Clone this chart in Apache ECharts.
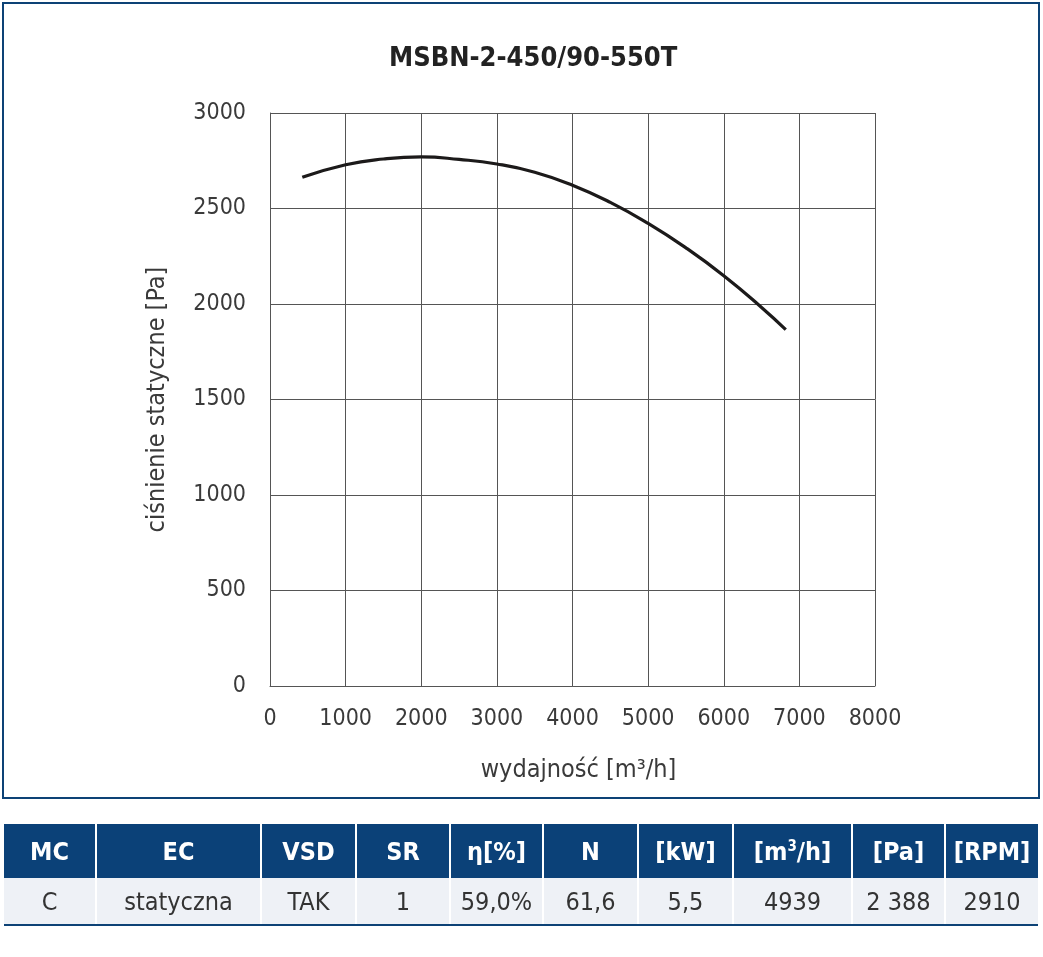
<!DOCTYPE html>
<html>
<head>
<meta charset="utf-8">
<script src="https://cdn.jsdelivr.net/npm/echarts@6/dist/echarts.min.js"></script>
<style>
  html, body { margin: 0; padding: 0; background: #fff; }
  #wrap { position: relative; width: 1043px; height: 957px; overflow: hidden; }
  #chart { position: absolute; left: 0; top: 0; width: 1043px; height: 957px; }
  #box { position: absolute; left: 2px; top: 2px; width: 1034px; height: 793px; border: 2px solid #0d4276; pointer-events: none; }
  #tbl { position: absolute; left: 4px; top: 824px; width: 1034px; border-collapse: collapse; table-layout: fixed;
         font-family: "DejaVu Sans Condensed", Roboto, sans-serif; }
  #tbl th { background: #0b4178; color: #fff; font-weight: bold; font-size: 25px; height: 54px; padding: 0;
            border-right: 2px solid #fff; text-align: center; }
  #tbl td { background: #eef1f6; color: #333; font-size: 25px; height: 46px; padding: 0;
            border-right: 2px solid #fff; text-align: center; border-bottom: 2px solid #0d4276; }
  #tbl th:last-child, #tbl td:last-child { border-right: none; }
  #tbl sup { font-size: 60%; line-height: 0; }
</style>
</head>
<body>
<div id="wrap">
  <div id="chart"></div>
  <div id="box"></div>
  <table id="tbl"><colgroup id="cols"></colgroup><thead><tr id="hrow"></tr></thead><tbody><tr id="drow"></tr></tbody></table>
</div>
<script>
// ---- data ----
const titleText = 'MSBN-2-450/90-550T';
const xAxisName = 'wydajność [m³/h]';
const yAxisName = 'ciśnienie statyczne [Pa]';
const flowValues = [427, 1000, 1500, 2000, 2500, 3000, 3500, 4000, 4500, 5000, 5500, 6000, 6500, 6820];
const pressureValues = [2663, 2729, 2759, 2770, 2757, 2733, 2690, 2622, 2532, 2422, 2294, 2148, 1982, 1866];
const tableHeaders = ['MC', 'EC', 'VSD', 'SR', 'η[%]', 'N', '[kW]', '[m<sup>3</sup>/h]', '[Pa]', '[RPM]'];
const tableValues = ['C', 'statyczna', 'TAK', '1', '59,0%', '61,6', '5,5', '4939', '2 388', '2910'];
const columnWidths = [92, 165, 95, 94, 93, 95, 95, 119, 93, 93];

// ---- table ----
document.getElementById('cols').innerHTML = columnWidths.map(w => '<col style="width:' + w + 'px">').join('');
document.getElementById('hrow').innerHTML = tableHeaders.map(h => '<th>' + h + '</th>').join('');
document.getElementById('drow').innerHTML = tableValues.map(v => '<td>' + v + '</td>').join('');

// ---- chart ----
const font = '"DejaVu Sans Condensed", Roboto, sans-serif';
const chart = echarts.init(document.getElementById('chart'), null, { renderer: 'canvas' });
const gridColor = '#555';
const labelColor = '#3a3a3a';
chart.setOption({
  animation: false,
  title: {
    text: titleText,
    left: 384, top: 40,
    textStyle: { fontFamily: font, fontSize: 27, fontWeight: 'bold', color: '#222' }
  },
  grid: { left: 270, right: 168, top: 113, bottom: 271, containLabel: false },
  xAxis: {
    type: 'value', min: 0, max: 8000, interval: 1000,
    name: xAxisName, nameLocation: 'middle', nameGap: 72,
    nameTextStyle: { fontFamily: font, fontSize: 25, color: labelColor, padding: [0, 0, 0, 12] },
    axisLine: { show: true, lineStyle: { color: gridColor, width: 1 } },
    axisTick: { show: false },
    axisLabel: { fontFamily: font, fontSize: 23, color: labelColor, margin: 22, formatter: v => String(v) },
    splitLine: { show: true, lineStyle: { color: gridColor, width: 1 } }
  },
  yAxis: {
    type: 'value', min: 0, max: 3000, interval: 500,
    name: yAxisName, nameLocation: 'middle', nameGap: 100, nameRotate: 90,
    nameTextStyle: { fontFamily: font, fontSize: 25, color: labelColor },
    axisLine: { show: true, lineStyle: { color: gridColor, width: 1 } },
    axisTick: { show: false },
    axisLabel: { fontFamily: font, fontSize: 23, color: labelColor, margin: 24, formatter: v => String(v) },
    splitLine: { show: true, lineStyle: { color: gridColor, width: 1 } }
  },
  series: [{
    type: 'line',
    data: flowValues.map((x, i) => [x, pressureValues[i]]),
    smooth: 0.5,
    showSymbol: false,
    lineStyle: { color: '#1c1a1a', width: 3.2 }
  }]
});
</script>
</body>
</html>
